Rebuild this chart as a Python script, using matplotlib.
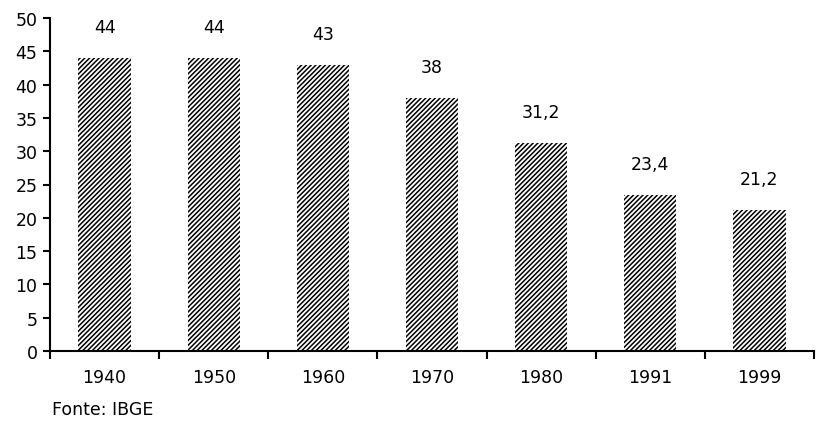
import numpy as np
import matplotlib.pyplot as plt

# data
years = ['1940', '1950', '1960', '1970', '1980', '1991', '1999']
values = [44, 44, 43, 38, 31.2, 23.4, 21.2]
value_labels = ['44', '44', '43', '38', '31,2', '23,4', '21,2']
yticks = [0, 5, 10, 15, 20, 25, 30, 35, 40, 45, 50]

plt.rcParams['font.family'] = 'DejaVu Sans'
plt.rcParams['hatch.linewidth'] = 1.1

fig = plt.figure(figsize=(8.19, 4.27), dpi=100)
ax = fig.add_axes([50 / 819, 75 / 427, 764 / 819, 333 / 427])

x = np.arange(len(years))
ax.bar(x, values, width=0.48, color='white', edgecolor='black',
       hatch='///////', linewidth=0)

for xi, v, lab in zip(x, values, value_labels):
    ax.text(xi, v + 3.3, lab, ha='center', va='bottom', fontsize=12.5)

ax.set_xlim(-0.5, len(years) - 0.5)
ax.set_ylim(0, 50)
ax.set_yticks(yticks)
ax.set_yticklabels([str(t) for t in yticks], fontsize=12.5)

# x ticks sit between categories, labels at centers
ax.set_xticks(np.arange(-0.5, len(years) - 0.4, 1.0))
ax.set_xticklabels([])
ax.set_xticks(x, minor=True)
ax.set_xticklabels(years, minor=True, fontsize=12.5)
ax.tick_params(axis='x', which='minor', length=0, pad=12)
ax.tick_params(axis='x', which='major', length=6, width=1.5, direction='out')
ax.tick_params(axis='y', length=5, width=1.5, direction='out', pad=4)

for side in ['top', 'right']:
    ax.spines[side].set_visible(False)
for side in ['left', 'bottom']:
    ax.spines[side].set_linewidth(1.5)

fig.text(52 / 819, 1 - 410 / 427, 'Fonte: IBGE', fontsize=12.5, va='center')

fig.savefig('out.png', dpi=100)
